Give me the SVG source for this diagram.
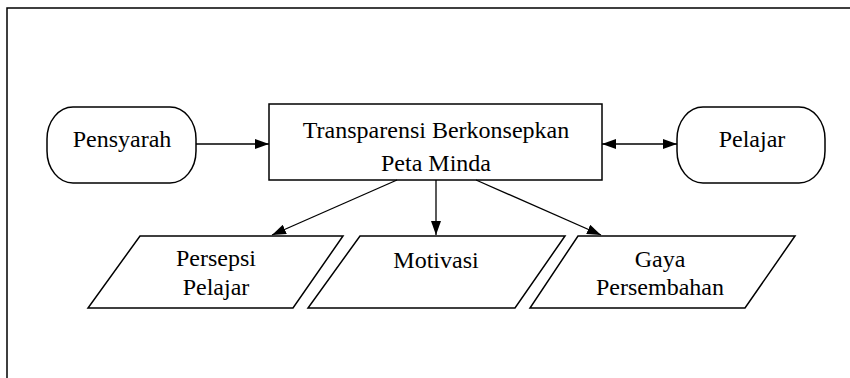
<svg xmlns="http://www.w3.org/2000/svg" width="850" height="378" viewBox="0 0 850 378">
<defs>
<style>
.s{fill:#fff;stroke:#000;stroke-width:1.5}
.t{font-family:"Liberation Serif","Times New Roman",serif;font-size:24px;fill:#000;text-anchor:middle}
.c{stroke:#000;stroke-width:1.3;fill:none}
</style>
<marker id="ah" viewBox="0 0 14 10" refX="14" refY="5" markerWidth="14" markerHeight="10" markerUnits="userSpaceOnUse" orient="auto-start-reverse">
<path d="M0,0 L14,5 L0,10 Z" fill="#000"/>
</marker>
</defs>
<rect width="850" height="378" fill="#fff"/>
<path d="M7,378 V8 H850" fill="none" stroke="#000" stroke-width="1.5"/>
<g id="pensyarah">
<rect class="s" x="47" y="107" width="149" height="76" rx="26" ry="32"/>
<text class="t" x="122" y="147">Pensyarah</text>
</g>
<g id="transparensi">
<rect class="s" x="269" y="104" width="333" height="76"/>
<text class="t" x="436" y="138">Transparensi Berkonsepkan</text>
<text class="t" x="436" y="171">Peta Minda</text>
</g>
<g id="pelajar">
<rect class="s" x="677" y="107" width="148" height="76" rx="26" ry="32"/>
<text class="t" x="752" y="147">Pelajar</text>
</g>
<g id="persepsi">
<polygon class="s" points="140,236 343,236 293,308 88,308"/>
<text class="t" x="216" y="266">Persepsi</text>
<text class="t" x="216" y="295">Pelajar</text>
</g>
<g id="motivasi">
<polygon class="s" points="360,236 565,236 515,308 308,308"/>
<text class="t" x="436" y="268">Motivasi</text>
</g>
<g id="gaya">
<polygon class="s" points="578,236 795,236 745,308 530,308"/>
<text class="t" x="660" y="267">Gaya</text>
<text class="t" x="660" y="295">Persembahan</text>
</g>
<g id="connectors">
<line class="c" x1="196" y1="144" x2="269" y2="144" marker-end="url(#ah)"/>
<line class="c" x1="602" y1="144" x2="677" y2="144" marker-start="url(#ah)" marker-end="url(#ah)"/>
<line class="c" x1="397" y1="180" x2="272" y2="235" marker-end="url(#ah)"/>
<line class="c" x1="436" y1="180" x2="436" y2="235" marker-end="url(#ah)"/>
<line class="c" x1="476" y1="180" x2="601" y2="235" marker-end="url(#ah)"/>
</g>
</svg>
